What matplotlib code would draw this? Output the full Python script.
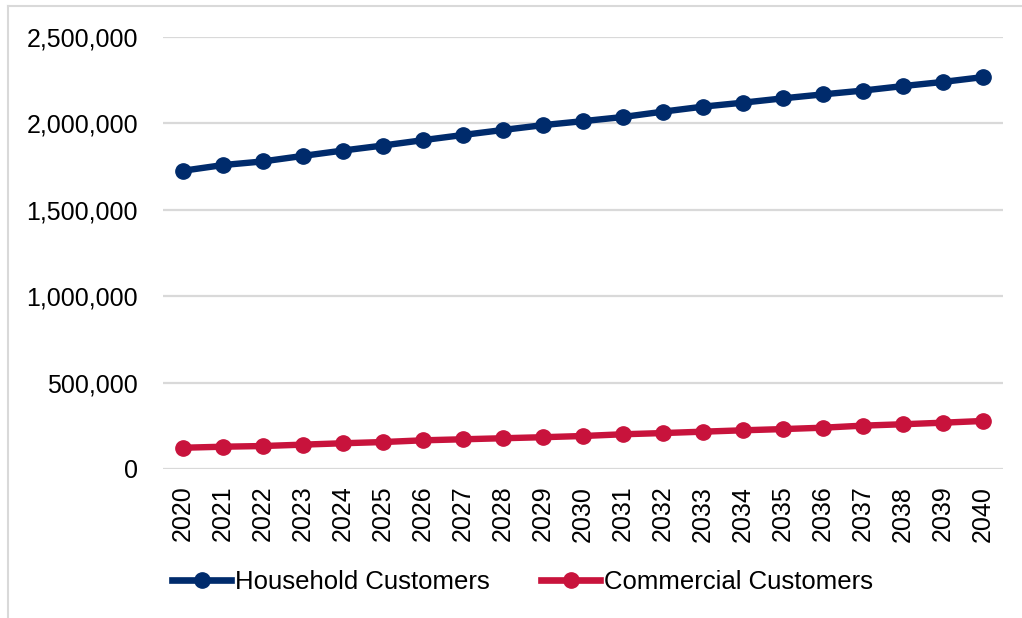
import matplotlib
matplotlib.use("Agg")
import matplotlib.pyplot as plt
from matplotlib.lines import Line2D
from matplotlib.ticker import FuncFormatter

years = list(range(2020, 2041))
household = [1726000, 1759000, 1780000, 1812000, 1843000, 1872000, 1903000, 1933000,
             1962000, 1990000, 2013000, 2037000, 2068000, 2097000, 2120000, 2145000,
             2168000, 2190000, 2216000, 2240000, 2268000]
commercial = [123000, 129000, 133000, 141000, 149000, 156000, 166000, 172000,
              178000, 184000, 191000, 201000, 208000, 216000, 224000, 231000,
              239000, 251000, 259000, 268000, 278000]
series_names = ["Household Customers", "Commercial Customers"]
colors = ["#002B6C", "#C8133C"]
y_ticks = [0, 500000, 1000000, 1500000, 2000000, 2500000]

plt.rcParams['font.family'] = ['Liberation Sans', 'DejaVu Sans']

fig = plt.figure(figsize=(10.22, 6.18), dpi=100)
ax = fig.add_axes([163/1022, 1-469/618, (1003-163)/1022, (469-37)/618])

x = list(range(len(years)))
for vals, c, name in zip([household, commercial], colors, series_names):
    ax.plot(x, vals, color=c, lw=4.6, marker='o', markersize=11, label=name,
            solid_capstyle='round')

ax.set_xlim(-0.5, len(years) - 0.5)
ax.set_ylim(0, 2500000)
ax.set_yticks(y_ticks)
ax.yaxis.set_major_formatter(FuncFormatter(lambda v, p: f"{int(v):,}"))
ax.set_xticks(x)
ax.set_xticklabels([str(y) for y in years], rotation=90, fontsize=18)
ax.tick_params(axis='y', labelsize=18, length=0, pad=18, colors='#000000')
ax.tick_params(axis='x', length=0, pad=12)
ax.grid(axis='y', color='#D9D9D9', lw=1.6)
ax.set_axisbelow(True)
for s in ax.spines.values():
    s.set_visible(False)

handles = [Line2D([], [], color=c, lw=4.8, marker='o', markersize=11) for c in colors]
leg = fig.legend(handles, series_names, loc='center left', bbox_to_anchor=(172/1022, 1-582/618),
                 ncol=2, frameon=False, handlelength=2.3, handletextpad=0.15,
                 columnspacing=2.0, borderpad=0, borderaxespad=0,
                 prop={'size': 18.5})

# Outer border (top and left visible)
fig.add_artist(Line2D([8/1022, 1], [1-6/618, 1-6/618], color='#D9D9D9', lw=1.5, transform=fig.transFigure))
fig.add_artist(Line2D([8/1022, 8/1022], [0, 1-6/618], color='#D9D9D9', lw=1.5, transform=fig.transFigure))

fig.savefig("out.png", dpi=100)
